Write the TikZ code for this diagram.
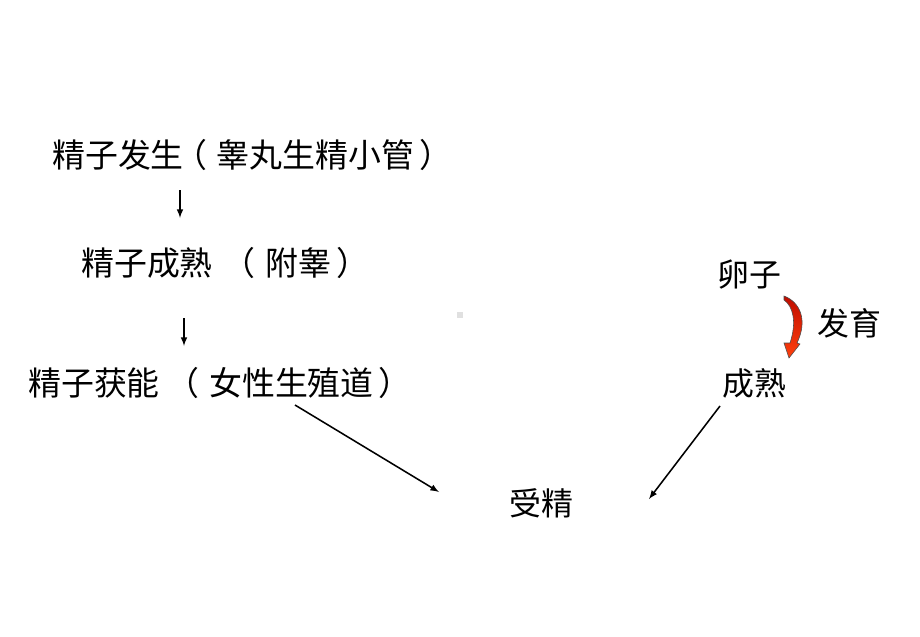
\documentclass[tikz,border=0pt]{standalone}
\usepackage{fontspec}
\newfontfamily\cjk{Noto Sans CJK SC}
\usetikzlibrary{positioning,arrows}
\definecolor{darkred}{rgb}{0.75,0.05,0}
\definecolor{orred}{rgb}{1,0.25,0.05}
\tikzset{>=latex}
\tikzset{txt/.style={anchor=west, inner sep=0pt, font=\cjk\fontsize{22.7}{27}\selectfont},
         lefttxt/.style={txt, font=\cjk\fontsize{23.4}{28}\selectfont}}
% brackets moved towards the middle of their cells
\newcommand{\lbr}{\makebox[1em][l]{\hspace{-0.3em}（}}
\newcommand{\rbr}{\hspace{0.15em}）}

\begin{document}
\begin{tikzpicture}[x=0.025cm, y=-0.025cm]
      \useasboundingbox (0,0) rectangle (920,637);
      \node[lefttxt] (fs) at (52,155) {精子发生\lbr 睾丸生精小管\rbr};
      \node[lefttxt] (cs) at (81,263) {精子成熟\hspace{0.6em}\lbr 附睾\rbr};
      \node[lefttxt] (hn) at (28,383) {精子获能\hspace{0.5em}\lbr 女性生殖道\rbr};
      \node[txt] (lz) at (717,275) {卵子};
      \node[txt] (fy) at (817,323) {发育};
      \node[txt] (cl) at (722,383) {成熟};
      \node[txt] (sj) at (509,503) {受精};
      \coordinate (a1) at (180,190);
      \coordinate (b1) at (180,218);
      \coordinate (a2) at (184,318);
      \coordinate (b2) at (184,346);
      \coordinate (a3) at (295,405);
      \coordinate (b3) at (439,492);
      \coordinate (a4) at (720,406);
      \coordinate (b4) at (649,499);
      \draw[->, line width=1.1pt] (a1) -- (b1);
      \draw[->, line width=1.1pt] (a2) -- (b2);
      \draw[->, line width=1.1pt] (a3) -- (b3);
      \draw[->, line width=1.1pt] (a4) -- (b4);
      % red curved arrow
      \shade[top color=darkred, bottom color=orred, draw=black!70, line width=0.4pt]
        (784,296) .. controls (800,302) and (808,320) .. (797,343)
        -- (800,344) -- (789,358) -- (784,343) -- (790,343)
        .. controls (797,322) and (793,306) .. (784,300) -- cycle;
      \fill[black!12] (457,312) rectangle (463,318);
\end{tikzpicture}
\end{document}
